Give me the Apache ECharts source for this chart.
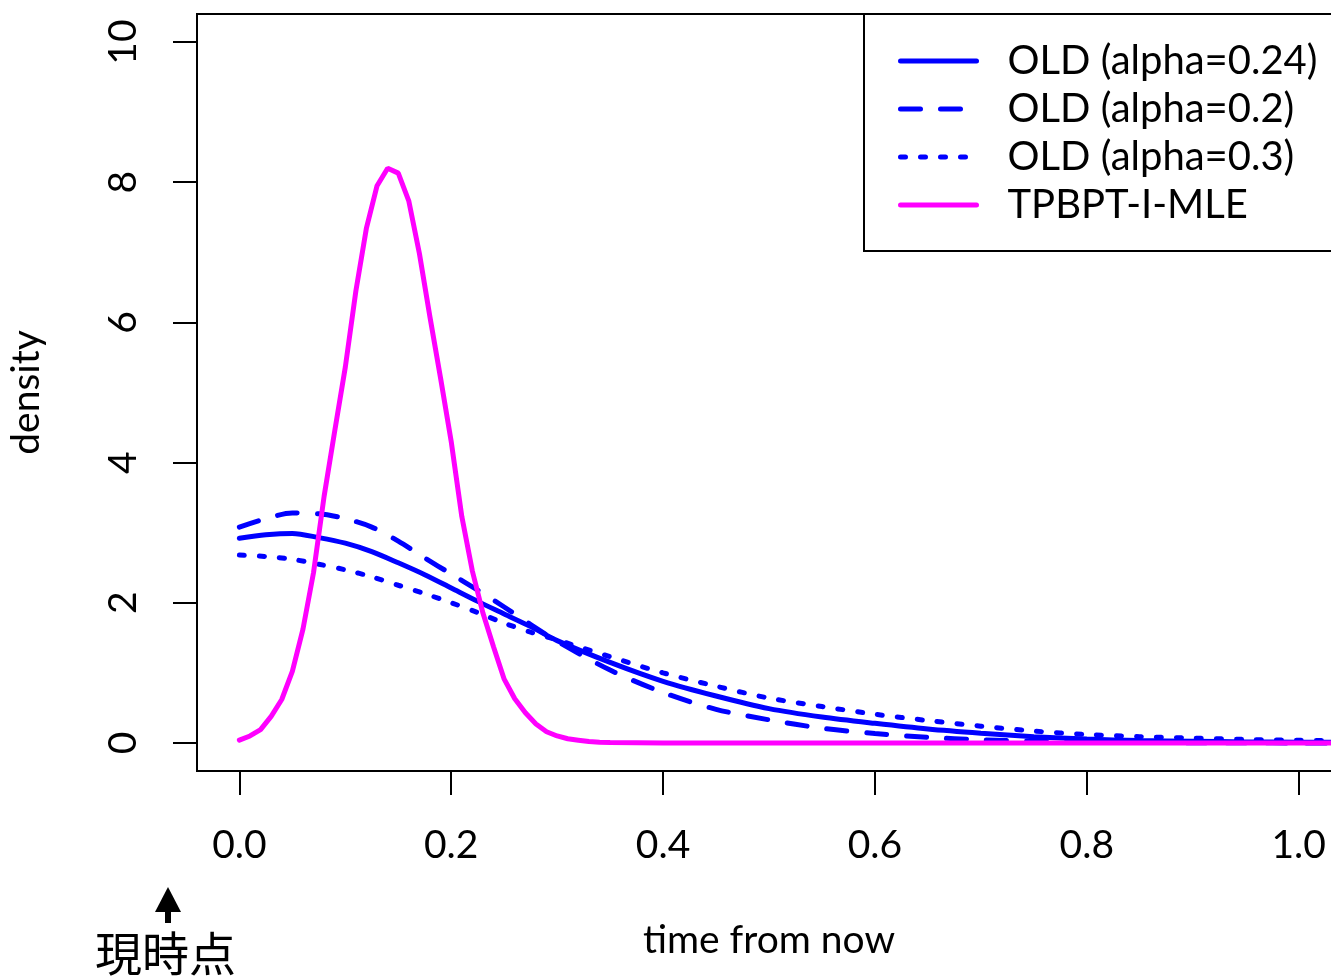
<!DOCTYPE html>
<html>
<head>
<meta charset="utf-8">
<script src="https://cdn.jsdelivr.net/npm/echarts@6/dist/echarts.min.js"></script>
<style>
  html, body { margin: 0; padding: 0; background: #fff; }
  #chart { width: 1331px; height: 980px; }
</style>
</head>
<body>
<div id="chart"></div>
<script>
// x grid for the three OLD curves
const tOld = [0, 0.025, 0.05, 0.075, 0.1, 0.125, 0.15, 0.175, 0.2, 0.225, 0.25, 0.275, 0.3,
  0.35, 0.4, 0.45, 0.5, 0.55, 0.6, 0.65, 0.7, 0.75, 0.8, 0.85, 0.9, 0.95, 1.0, 1.04];
// OLD (alpha=0.24), solid
const old024 = [2.92, 2.97, 2.99, 2.93, 2.85, 2.73, 2.57, 2.40, 2.21, 2.02, 1.84, 1.66, 1.46,
  1.15, 0.88, 0.67, 0.49, 0.37, 0.28, 0.20, 0.14, 0.09, 0.055, 0.035, 0.025, 0.015, 0.01, 0.008];
// OLD (alpha=0.2), dashed
const old020 = [3.08, 3.20, 3.28, 3.27, 3.20, 3.08, 2.88, 2.64, 2.41, 2.18, 1.94, 1.69, 1.45,
  1.04, 0.72, 0.48, 0.33, 0.21, 0.135, 0.08, 0.045, 0.025, 0.013, 0.007, 0.004, 0.002, 0.001, 0.0005];
// OLD (alpha=0.3), dotted
const old030 = [2.68, 2.66, 2.62, 2.55, 2.47, 2.37, 2.25, 2.13, 2.00, 1.86, 1.71, 1.58, 1.47,
  1.23, 1.00, 0.81, 0.64, 0.52, 0.41, 0.32, 0.24, 0.17, 0.12, 0.09, 0.07, 0.05, 0.04, 0.03];

// TPBPT-I-MLE
const tMle = [0, 0.01, 0.02, 0.03, 0.04, 0.05, 0.06, 0.07, 0.08, 0.09, 0.1, 0.11, 0.12, 0.13,
  0.14, 0.15, 0.16, 0.17, 0.18, 0.19, 0.2, 0.21, 0.22, 0.23, 0.24, 0.25, 0.26, 0.27, 0.28,
  0.29, 0.3, 0.31, 0.32, 0.33, 0.34, 0.35, 0.4, 0.6, 0.8, 1.0, 1.04];
const mle = [0.04, 0.10, 0.19, 0.38, 0.62, 1.02, 1.62, 2.43, 3.52, 4.45, 5.36, 6.45, 7.35, 7.95,
  8.20, 8.13, 7.73, 6.98, 6.07, 5.20, 4.30, 3.23, 2.45, 1.85, 1.37, 0.91, 0.63, 0.43, 0.27,
  0.16, 0.10, 0.06, 0.04, 0.02, 0.01, 0.005, 0, 0, 0, 0, 0];

const seriesNames = ['OLD (alpha=0.24)', 'OLD (alpha=0.2)', 'OLD (alpha=0.3)', 'TPBPT-I-MLE'];
const xTicks = [0, 0.2, 0.4, 0.6, 0.8, 1.0];
const yTicks = [0, 2, 4, 6, 8, 10];

const FONT = 'Lato';
const BLUE = '#0000ff';
const MAGENTA = '#ff00ff';
const LW = 5;

function zip(xs, ys) {
  return xs.map((x, i) => [x, ys[i]]);
}

function lineSeries(name, xs, ys, color, dash, smooth) {
  return {
    name: name,
    type: 'line',
    data: zip(xs, ys),
    symbol: 'none',
    smooth: smooth,
    lineStyle: { color: color, width: LW, type: dash, cap: 'round' },
    itemStyle: { color: color }
  };
}

let chart = echarts.init(document.getElementById('chart'));

let option = {
  animation: false,
  backgroundColor: '#fff',
  textStyle: { fontFamily: FONT, color: '#000' },
  grid: {
    left: 197, top: 14, right: -10, bottom: 209,
    outerBoundsMode: 'none',
    show: true, borderColor: '#000', borderWidth: 2
  },
  legend: {
    data: seriesNames,
    orient: 'vertical',
    left: 864, top: 14,
    padding: [23, 40, 22, 34],
    itemWidth: 76, itemHeight: 20, itemGap: 0,
    borderColor: '#000', borderWidth: 2,
    backgroundColor: '#fff',
    itemStyle: { opacity: 0 },
    lineStyle: { width: LW },
    textStyle: { fontFamily: FONT, fontSize: 40, lineHeight: 48, color: '#000', padding: [0, 0, 0, 26] }
  },
  xAxis: {
    type: 'value', min: -0.04, max: 1.04,
    name: 'time from now', nameLocation: 'middle', nameGap: 150,
    nameTextStyle: { fontFamily: FONT, fontSize: 39, color: '#000' },
    axisLine: { show: true, onZero: false, lineStyle: { color: '#000', width: 2 } },
    axisTick: { show: true, length: 24, customValues: xTicks, lineStyle: { color: '#000', width: 2 } },
    axisLabel: {
      customValues: xTicks, margin: 55, fontFamily: FONT, fontSize: 39, color: '#000',
      formatter: v => v.toFixed(1)
    },
    splitLine: { show: false }
  },
  yAxis: {
    type: 'value', min: -0.4, max: 10.4,
    name: 'density', nameLocation: 'middle', nameGap: 151,
    nameTextStyle: { fontFamily: FONT, fontSize: 39, color: '#000' },
    axisLine: { show: true, onZero: false, lineStyle: { color: '#000', width: 2 } },
    axisTick: { show: true, length: 24, customValues: yTicks, lineStyle: { color: '#000', width: 2 } },
    axisLabel: {
      customValues: yTicks, rotate: 90, margin: 54, fontFamily: FONT, fontSize: 39, color: '#000'
    },
    splitLine: { show: false }
  },
  series: [
    lineSeries(seriesNames[0], tOld, old024, BLUE, 'solid', 0.3),
    lineSeries(seriesNames[1], tOld, old020, BLUE, [20, 20], 0.3),
    lineSeries(seriesNames[2], tOld, old030, BLUE, [5, 15], 0.3),
    lineSeries(seriesNames[3], tMle, mle, MAGENTA, 'solid', false)
  ],
  graphic: [
    // arrow pointing at "now"
    { type: 'polygon', shape: { points: [[155, 912], [181, 912], [168, 887]] }, style: { fill: '#000' } },
    { type: 'rect', shape: { x: 165, y: 910, width: 6, height: 13 }, style: { fill: '#000' } },
    {
      type: 'text', left: 95, top: 930,
      style: { text: '現時点', font: '47px "Noto Sans CJK JP"', fill: '#000' }
    }
  ]
};

chart.setOption(option);
</script>
</body>
</html>
